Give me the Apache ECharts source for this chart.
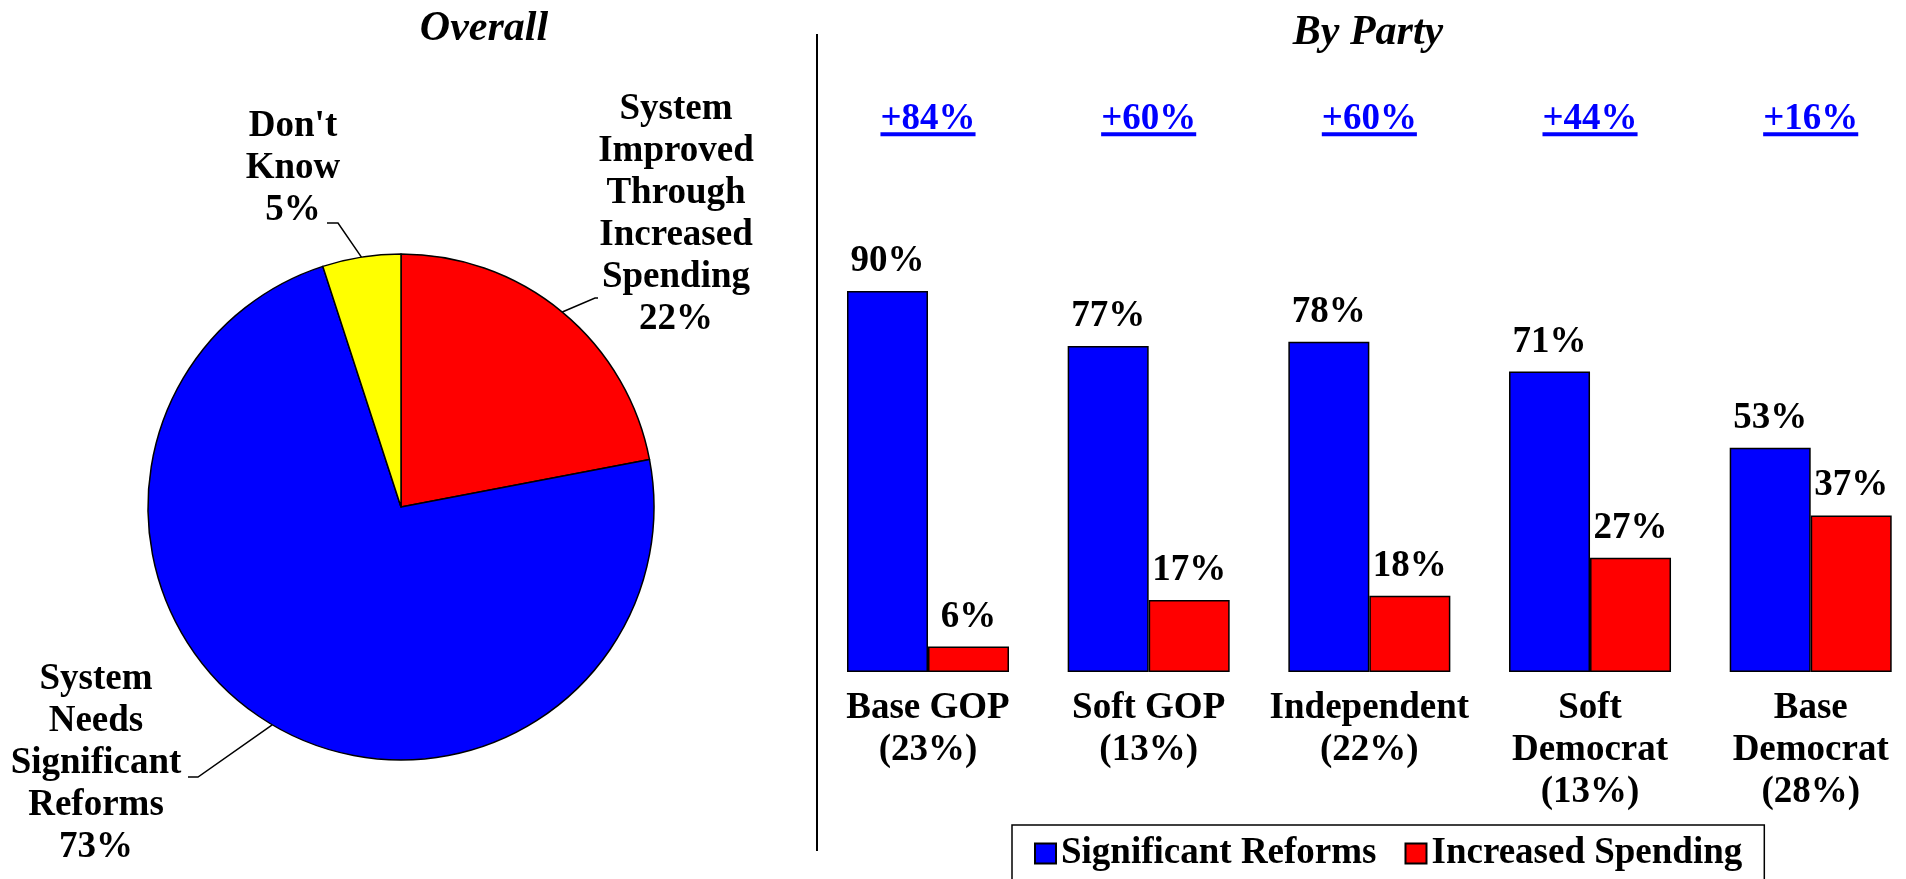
<!DOCTYPE html>
<html><head><meta charset="utf-8">
<script src="https://cdn.jsdelivr.net/npm/echarts@6/dist/echarts.min.js"></script>
<style>html,body{margin:0;padding:0;background:#fff}#c{width:1906px;height:879px}</style>
</head><body><div id="c"></div>
<script>
// ---- data ----
const pieNames = ['System Improved Through Increased Spending', 'System Needs Significant Reforms', "Don't Know"];
const pieValues = [22, 73, 5];
const pieColors = ['#ff0000', '#0000ff', '#ffff00'];

const groupNames = ['Base GOP', 'Soft GOP', 'Independent', 'Soft\nDemocrat', 'Base\nDemocrat'];
const groupShares = [23, 13, 22, 13, 28];
const reforms = [90, 77, 78, 71, 53];
const spending = [6, 17, 18, 27, 37];
const gaps = [84, 60, 60, 44, 16];
const seriesNames = ['Significant Reforms', 'Increased Spending'];

// ---- styling / layout ----
const FONT = "'Liberation Serif','Times New Roman',serif";
const PIE_C = [401, 507], PIE_R = 253;
const labelPos = [[676, 214], [96, 763], [293, 168]];
const elbows = [[[595, 298], [598, 298]], [[198, 777], [188, 777]], [[338, 223], [327, 223]]];

const categories = groupNames.map((g, i) => g + '\n(' + groupShares[i] + '%)');
const pieTotal = pieValues.reduce((a, b) => a + b, 0);
function edgePoint(i) {
  let before = 0;
  for (let j = 0; j < i; j++) before += pieValues[j];
  const mid = (before + pieValues[i] / 2) / pieTotal;
  const ang = Math.PI / 2 - mid * 2 * Math.PI;
  return [PIE_C[0] + PIE_R * Math.cos(ang), PIE_C[1] - PIE_R * Math.sin(ang)];
}
const mctx = document.createElement('canvas').getContext('2d');
function measure(t) { mctx.font = 'bold 37px ' + FONT; return mctx.measureText(t).width; }

const txt = { fontSize: 37, fontWeight: 'bold', fontFamily: FONT, color: '#000' };

const chart = echarts.init(document.getElementById('c'), null, { renderer: 'canvas' });
chart.setOption({
  animation: false,
  backgroundColor: '#fff',
  graphic: [
    { type: 'text', x: 484, y: 29, style: { text: 'Overall', font: 'italic bold 42px ' + FONT, fill: '#000', align: 'center', verticalAlign: 'middle' } },
    { type: 'text', x: 1368, y: 33, style: { text: 'By Party', font: 'italic bold 42px ' + FONT, fill: '#000', align: 'center', verticalAlign: 'middle' } },
    { type: 'line', shape: { x1: 817, y1: 34, x2: 817, y2: 851 }, style: { stroke: '#000', lineWidth: 2 } }
  ],
  legend: {
    data: seriesNames,
    left: 1012, top: 825,
    padding: [10, 22, 12, 22],
    itemWidth: 21, itemHeight: 20, itemGap: 28,
    icon: 'rect',
    borderColor: '#000', borderWidth: 1.5,
    textStyle: Object.assign({}, txt),
    selectedMode: false
  },
  grid: { left: 928, top: 248.7, width: 882.7, height: 423.3 },
  xAxis: {
    type: 'category', data: categories, boundaryGap: false,
    axisLine: { show: false }, axisTick: { show: false },
    axisLabel: Object.assign({ margin: 15, lineHeight: 42, interval: 0, align: 'center' }, txt)
  },
  yAxis: { type: 'value', min: 0, max: 100, show: false, splitLine: { show: false } },
  series: [
    {
      type: 'pie', center: PIE_C, radius: PIE_R, startAngle: 90, clockwise: true,
      avoidLabelOverlap: false, silent: true,
      data: pieNames.map((n, i) => ({ name: n, value: pieValues[i], itemStyle: { color: pieColors[i] } })),
      itemStyle: { borderColor: '#000', borderWidth: 1.5 },
      label: Object.assign({
        show: true, position: 'outside', lineHeight: 42, align: 'center',
        formatter: p => p.name.split(' ').join('\n') + '\n' + p.value + '%'
      }, txt),
      labelLine: { show: true, lineStyle: { color: '#000', width: 1.5 } },
      labelLayout: function (p) {
        const i = p.dataIndex;
        return {
          x: labelPos[i][0], y: labelPos[i][1], align: 'center', verticalAlign: 'middle',
          labelLinePoints: [edgePoint(i), elbows[i][0], elbows[i][1]]
        };
      },
      emphasis: { disabled: true }
    },
    {
      type: 'bar', name: seriesNames[0], data: reforms, barWidth: 81, barGap: '0%',
      itemStyle: { color: '#0000ff', borderColor: '#000', borderWidth: 1.5 },
      label: Object.assign({ show: true, position: 'top', distance: 11, formatter: '{c}%' }, txt),
      emphasis: { disabled: true }, silent: true
    },
    {
      type: 'bar', name: seriesNames[1], data: spending, barWidth: 81, barGap: '0%',
      itemStyle: { color: '#ff0000', borderColor: '#000', borderWidth: 1.5 },
      label: Object.assign({ show: true, position: 'top', distance: 11, formatter: '{c}%' }, txt),
      emphasis: { disabled: true }, silent: true
    },
    {
      type: 'custom', name: 'gap', silent: true, z: 10,
      data: gaps.map((g, i) => [i, g]),
      renderItem: function (params, api) {
        const x = api.coord([api.value(0), 0])[0];
        const y = params.coordSys.y - 133;
        const t = '+' + api.value(1) + '%';
        const w = measure(t);
        return {
          type: 'group',
          children: [
            { type: 'text', x: x, y: y + 4, style: { text: t, fill: '#0000ff', font: 'bold 37px ' + FONT, align: 'center', verticalAlign: 'middle' } },
            { type: 'rect', shape: { x: x - w / 2, y: y + 16.5, width: w, height: 4 }, style: { fill: '#0000ff' } }
          ]
        };
      }
    }
  ]
});
</script>
</body></html>
